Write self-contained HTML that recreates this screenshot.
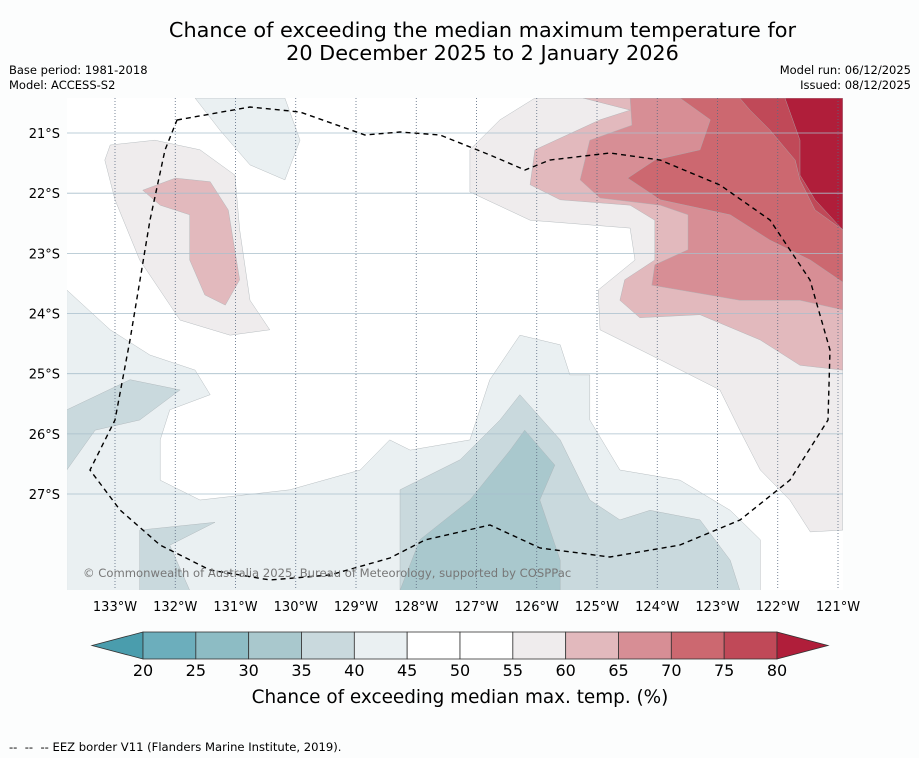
<!DOCTYPE html>
<html><head><meta charset="utf-8">
<style>
body{margin:0;background:#fcfdfd;font-family:"Liberation Sans","DejaVu Sans",sans-serif;}
#wrap{position:relative;width:919px;height:758px;overflow:hidden;}
.t{position:absolute;white-space:nowrap;color:#000;}
</style></head>
<body>
<div id="wrap">
<div class="t" style="left:0;width:965px;text-align:center;top:19px;font-size:20.8px;line-height:23px;font-family:'DejaVu Sans',sans-serif;">Chance of exceeding the median maximum temperature for<br>20 December 2025 to 2 January 2026</div>
<div class="t" style="left:9px;top:63px;font-size:11.5px;line-height:15px;font-family:'DejaVu Sans',sans-serif;">Base period: 1981-2018<br>Model: ACCESS-S2</div>
<div class="t" style="right:8px;top:63px;font-size:11.5px;line-height:15px;text-align:right;font-family:'DejaVu Sans',sans-serif;">Model run: 06/12/2025<br>Issued: 08/12/2025</div>
<svg id="svg" width="919" height="758" style="position:absolute;left:0;top:0"></svg>
<div class="t" style="left:9px;top:740px;font-size:11.6px;font-family:'DejaVu Sans',sans-serif;">--&nbsp; --&nbsp; -- EEZ border V11 (Flanders Marine Institute, 2019).</div>
</div>
<script>
const lonTicks=[133,132,131,130,129,128,127,126,125,124,123,122,121];
const latTicks=[21,22,23,24,25,26,27];
const levels=[20,25,30,35,40,45,50,55,60,65,70,75,80];
const levelColors=["#6caebc","#8dbcc4","#a9c8cd","#c9d9dd","#eaf0f2","#ffffff","#ffffff","#efeced","#e2b9bd","#d78e95","#cc6870","#c04958"];
const lowColor="#4a9dad", highColor="#b01e3a";
const contourLevel=[4,4,3,3,3,2,7,8,9,10,11,12,7,8];
const contourLon=[
[133.8,133.08,132.42,131.67,131.42,132.09,132.25,132.25,131.59,130.1,128.93,128.44,128.1,127.11,126.78,126.28,125.61,125.45,125.12,125.12,124.62,123.62,122.79,122.29,122.29,133.8],
[131.67,130.18,129.93,130.18,130.76,131.26],
[133.8,132.75,131.92,132.59,133.33,133.8],
[128.27,128.27,127.27,126.61,126.28,125.61,125.12,124.62,124.12,123.29,122.79,122.63],
[132.59,131.34,132.09,131.76,132.59],
[128.27,127.94,127.11,126.44,126.2,125.7,125.95,125.61,125.61],
[126.03,120.92,120.92,121.46,121.8,122.29,122.63,122.96,123.95,124.95,124.98,124.37,124.45,126.11,127.11,127.11,126.61],
[125.23,120.92,120.92,121.63,122.29,123.29,124.29,124.62,124.54,124.04,124.04,124.45,125.61,126.11,126.03,124.95,124.45],
[124.29,120.92,120.92,121.63,122.63,123.62,124.09,124.04,123.49,123.49,123.95,124.95,125.28,125.12,124.42,124.45],
[123.62,120.92,120.92,121.46,122.13,122.79,123.95,124.49,124.04,123.29,123.12],
[122.63,120.92,120.92,121.38,121.63,121.71,122.13,122.46],
[121.88,120.92,120.92,121.38,121.63,121.63],
[133.08,132.34,131.59,131.01,130.93,130.76,130.43,131.09,131.92,132.59,133,133.17],
[132.54,132,131.42,131.12,130.93,131.17,131.51,131.76,131.76,132.25]
];
const contourLat=[
[23.61,24.27,24.69,24.94,25.35,25.6,26.1,26.77,27.1,26.93,26.6,26.1,26.27,26.1,25.1,24.36,24.52,25.02,25.02,25.77,26.6,26.77,27.27,27.76,28.6,28.6],
[20.42,20.42,21.12,21.78,21.53,20.95],
[25.6,25.1,25.27,25.77,25.94,26.6],
[28.6,26.93,26.43,25.77,25.35,26.1,27.1,27.43,27.27,27.43,28.1,28.6],
[27.6,27.47,27.85,28.6,28.6],
[28.6,27.76,27.1,26.27,25.94,26.52,27.1,28.1,28.6],
[20.42,20.42,27.6,27.63,27.1,26.6,25.94,25.27,24.77,24.27,23.61,23.11,22.58,22.45,21.98,21.28,20.78],
[20.42,20.42,24.94,24.86,24.44,24.02,24.07,23.78,23.44,23.11,22.45,22.2,22.11,21.86,21.28,20.78,20.62],
[20.42,20.42,23.94,23.78,23.78,23.61,23.53,23.19,22.94,22.36,22.2,22.08,21.78,21.12,20.87,20.42],
[20.42,20.42,23.48,23.11,22.78,22.36,22.11,21.75,21.45,21.28,20.78],
[20.42,20.42,22.61,22.28,21.78,21.45,20.95,20.62],
[20.42,20.42,22.61,22.11,21.7,21.12],
[21.2,21.12,21.28,21.7,22.61,23.78,24.27,24.36,24.11,23.11,22.11,21.45],
[21.95,21.75,21.81,22.28,23.44,23.86,23.69,23.11,22.36,22.2]
];
const X=lon=>115+(133-lon)*60.25;
const Y=lat=>133+(lat-21)*60.17;
const NS="http://www.w3.org/2000/svg";
const svg=document.getElementById('svg');
function mk(tag,attrs,parent){const e=document.createElementNS(NS,tag);for(const k in attrs)e.setAttribute(k,attrs[k]);(parent||svg).appendChild(e);return e;}
const clip=mk('clipPath',{id:'mc'});mk('rect',{x:67,y:98,width:776,height:492},clip);
const bg=mk('rect',{x:67,y:98,width:776,height:492,fill:'#ffffff'});


const g=mk('g',{'clip-path':'url(#mc)'});


contourLon.forEach((lons,i)=>{
  const pts=lons.map((lo,j)=>X(lo).toFixed(1)+','+Y(contourLat[i][j]).toFixed(1)).join(' ');
  const li=contourLevel[i];
  const col=li===12?highColor:levelColors[li];
  const p=mk('polygon',{points:pts,fill:col,stroke:'#a8b0b4','stroke-width':0.4},g);
  
  
});
latTicks.forEach(l=>{
  const ln=mk('line',{x1:67,x2:843,y1:Y(l),y2:Y(l),stroke:'#a9bfcc','stroke-width':0.8});
  
  
  const t=mk('text',{x:60,y:Y(l)+5,'text-anchor':'end','font-size':13,'font-family':'DejaVu Sans,sans-serif'});
  t.textContent=l+'°S';
  
  
});
lonTicks.forEach(l=>{
  const ln=mk('line',{x1:X(l),x2:X(l),y1:98,y2:590,stroke:'#5a6a80','stroke-width':0.8,'stroke-dasharray':'1,2'});
  
  
  const t=mk('text',{x:X(l),y:611,'text-anchor':'middle','font-size':13,'font-family':'DejaVu Sans,sans-serif'});
  t.textContent=l+'°W';
  
  
});
const eez=mk('path',{d:'M177,120 L250,107 L300,112 L365,135 L400,132 L440,135 L490,155 L525,170 L550,160 L610,153 L660,160 L720,185 L770,220 L810,280 L830,350 L828,420 L790,480 L740,520 L680,545 L610,557 L540,548 L490,525 L425,540 L390,558 L330,575 L270,580 L210,570 L160,545 L120,510 L90,470 L115,420 L130,340 L150,220 L165,150 Z',fill:'none',stroke:'#000','stroke-width':1.4,'stroke-dasharray':'5,4'});


const cr=mk('text',{x:83,y:577,'font-size':11.6,fill:'#777','font-family':'DejaVu Sans,sans-serif'});
cr.textContent='© Commonwealth of Australia 2025, Bureau of Meteorology, supported by COSPPac';


const cb0=143,cbW=(777-143)/12,cy=632,ch=27;
const lt=mk('polygon',{points:`92,${cy+ch/2} ${cb0},${cy} ${cb0},${cy+ch}`,fill:lowColor,stroke:'#333','stroke-width':0.8});


levelColors.forEach((c,i)=>{
  const r=mk('rect',{x:cb0+i*cbW,y:cy,width:cbW,height:ch,fill:c,stroke:'#333','stroke-width':0.8});
  
  
});
const ht=mk('polygon',{points:`${cb0+12*cbW},${cy} 828,${cy+ch/2} ${cb0+12*cbW},${cy+ch}`,fill:highColor,stroke:'#333','stroke-width':0.8});


levels.forEach((v,i)=>{
  const t=mk('text',{x:cb0+i*cbW,y:676,'text-anchor':'middle','font-size':16,'font-family':'DejaVu Sans,sans-serif'});
  t.textContent=v;
  
  
});
const cbt=mk('text',{x:460,y:703,'text-anchor':'middle','font-size':18.4,'font-family':'DejaVu Sans,sans-serif'});
cbt.textContent='Chance of exceeding median max. temp. (%)';


</script>
</body></html>
